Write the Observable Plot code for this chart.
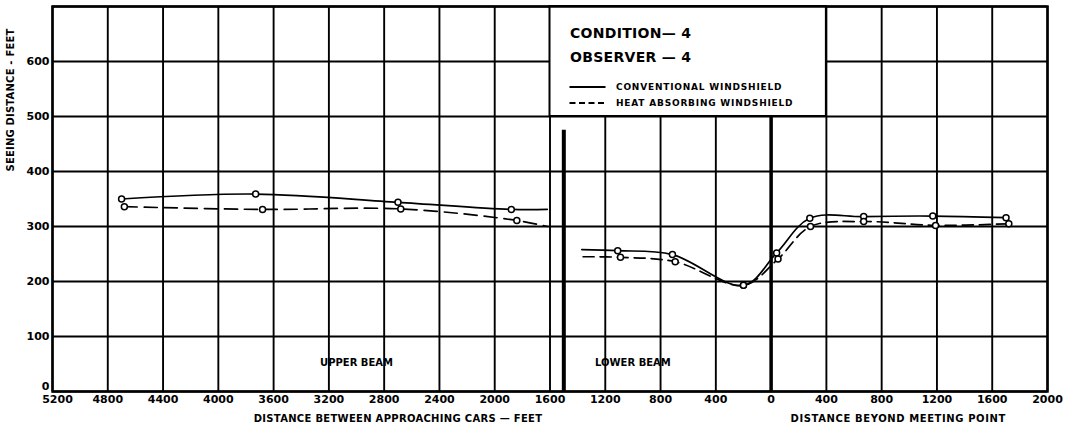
<!DOCTYPE html>
<html><head><meta charset="utf-8">
<script src="https://cdn.jsdelivr.net/npm/d3@7"></script>
<script src="https://cdn.jsdelivr.net/npm/@observablehq/plot@0.6"></script>
<style>
body{margin:0;background:#fff}
svg{display:block}
</style>
</head><body><div id="chart"></div>
<script>
// Signed position: negative = distance between approaching cars, positive = distance beyond meeting point
const xTicks = [-5200,-4800,-4400,-4000,-3600,-3200,-2800,-2400,-2000,-1600,-1200,-800,-400,0,400,800,1200,1600,2000];
const yTicks = [0,100,200,300,400,500,600];
const yTop = 700;

// Upper beam, conventional windshield (observed points)
const upperConvX = [-4700,-3730,-2700,-1880];
const upperConvY = [350,359,344,331];
const upperConvEndX = -1620, upperConvEndY = 331;

// Upper beam, heat absorbing windshield
const upperHeatX = [-4680,-3680,-2680,-1840];
const upperHeatY = [336,331,332,311];
const upperHeatEndX = -1620, upperHeatEndY = 300;

// Lower beam, conventional windshield
const lowerConvStartX = -1370, lowerConvStartY = 258;
const lowerConvX = [-1110,-714,-200,40,280,670,1170,1700];
const lowerConvY = [256,249,193,252,315,318,319,316];

// Lower beam, heat absorbing windshield
const lowerHeatStartX = -1360, lowerHeatStartY = 245;
const lowerHeatX = [-1090,-694,-200,50,285,670,1190,1720];
const lowerHeatY = [244,236,193,241,300,309,302,305];

const beamDivider = -1500, beamDividerTop = 475;
const legendBox = {x1: -1600, x2: 400, y1: 500, y2: 700};

const pts = (xs, ys) => xs.map((x, i) => ({x, y: ys[i]}));
const upperConvLine = [...pts(upperConvX, upperConvY), {x: upperConvEndX, y: upperConvEndY}];
const upperHeatLine = [...pts(upperHeatX, upperHeatY), {x: upperHeatEndX, y: upperHeatEndY}];
const lowerConvLine = [{x: lowerConvStartX, y: lowerConvStartY}, ...pts(lowerConvX, lowerConvY)];
const lowerHeatLine = [{x: lowerHeatStartX, y: lowerHeatStartY}, ...pts(lowerHeatX, lowerHeatY)];
const allPoints = [...pts(upperConvX, upperConvY), ...pts(upperHeatX, upperHeatY), ...pts(lowerConvX, lowerConvY), ...pts(lowerHeatX, lowerHeatY)];

const F = "DejaVu Sans";
const lineStyle = {x: "x", y: "y", curve: "catmull-rom", stroke: "black", strokeWidth: 1.7};

const plot = Plot.plot({
  width: 1075, height: 436,
  marginTop: 6, marginBottom: 45, marginLeft: 52, marginRight: 28,
  style: {fontFamily: F, fontWeight: "bold", fontSize: "11px", background: "white", color: "black"},
  x: {domain: [-5200, 2000], ticks: xTicks, tickFormat: d => String(Math.abs(d)), tickSize: 0, tickPadding: 4, label: null},
  y: {domain: [0, yTop], ticks: yTicks, tickSize: 0, tickPadding: 3, label: null},
  marks: [
    Plot.ruleX(xTicks, {stroke: "black", strokeWidth: 1.9}),
    Plot.ruleY([...yTicks, yTop], {stroke: "black", strokeWidth: 1.9}),
    Plot.ruleX([0], {stroke: "black", strokeWidth: 3.5}),
    Plot.ruleX([beamDivider], {y1: 0, y2: beamDividerTop, stroke: "black", strokeWidth: 4}),
    Plot.rect([legendBox], {x1: "x1", x2: "x2", y1: "y1", y2: "y2", fill: "white", stroke: "black", strokeWidth: 2}),
    Plot.frame({stroke: "black", strokeWidth: 2.5}),
    Plot.line(upperConvLine, lineStyle),
    Plot.line(upperHeatLine, {...lineStyle, strokeDasharray: "13,7"}),
    Plot.line(lowerConvLine, lineStyle),
    Plot.line(lowerHeatLine, {...lineStyle, strokeDasharray: "11,6"}),
    Plot.dot(allPoints, {x: "x", y: "y", r: 3, stroke: "black", fill: "white", strokeWidth: 1.5}),
    Plot.text(["UPPER BEAM"], {x: -3000, y: 53, fontSize: 10, fontWeight: "bold", fill: "black"}),
    Plot.text(["LOWER BEAM"], {x: -1000, y: 53, fontSize: 10, fontWeight: "bold", fill: "black"}),
    Plot.text(["SEEING DISTANCE - FEET"], {y: 400, frameAnchor: "left", dx: -42, rotate: -90, fontSize: 10, fontWeight: "bold", fill: "black"}),
    Plot.text(["DISTANCE BETWEEN APPROACHING CARS — FEET"], {x: -2700, frameAnchor: "bottom", dy: 30, fontSize: 10, fontWeight: "bold", fill: "black"}),
    Plot.text(["DISTANCE BEYOND MEETING POINT"], {x: 920, frameAnchor: "bottom", dy: 30, fontSize: 10, fontWeight: "bold", fill: "black"}),
    Plot.text(["CONDITION— 4"], {x: legendBox.x1, y: legendBox.y2, dx: 20, dy: 27, textAnchor: "start", fontSize: 14, fontWeight: "bold", fill: "black"}),
    Plot.text(["OBSERVER — 4"], {x: legendBox.x1, y: legendBox.y2, dx: 20, dy: 51, textAnchor: "start", fontSize: 14, fontWeight: "bold", fill: "black"}),
    Plot.text(["CONVENTIONAL WINDSHIELD"], {x: legendBox.x1, y: legendBox.y2, dx: 66, dy: 81, textAnchor: "start", fontSize: 9, fontWeight: "bold", fill: "black"}),
    Plot.text(["HEAT ABSORBING WINDSHIELD"], {x: legendBox.x1, y: legendBox.y2, dx: 66, dy: 97, textAnchor: "start", fontSize: 9, fontWeight: "bold", fill: "black"})
  ]
});

// letter spacing tweaks
const spacing = {
  "CONVENTIONAL WINDSHIELD": "0.8px",
  "HEAT ABSORBING WINDSHIELD": "0.8px",
  "CONDITION— 4": "0.3px",
  "OBSERVER — 4": "0.3px",
  "DISTANCE BETWEEN APPROACHING CARS — FEET": "0.3px",
  "DISTANCE BEYOND MEETING POINT": "0.6px",
  "SEEING DISTANCE - FEET": "0.2px"
};
plot.querySelectorAll("text").forEach(t => {
  const s = spacing[t.textContent];
  if (s) t.style.letterSpacing = s;
});

// legend samples drawn through the scales
const sx = plot.scale("x"), sy = plot.scale("y");
const bx = sx.apply(legendBox.x1), by = sy.apply(legendBox.y2);
const g = d3.select(plot).append("g").attr("stroke", "black").attr("stroke-width", 1.8);
g.append("line").attr("x1", bx + 20).attr("x2", bx + 56).attr("y1", by + 81).attr("y2", by + 81);
g.append("line").attr("x1", bx + 20).attr("x2", bx + 58).attr("y1", by + 97).attr("y2", by + 97).attr("stroke-dasharray", "6,3.5");

document.getElementById("chart").appendChild(plot);

// nudge the corner labels apart ("0" on y axis up, "5200" on x axis right), as in the reference
const x0 = sx.apply(-5200);
plot.querySelectorAll("text").forEach(t => {
  const r = t.getBoundingClientRect();
  const tr = t.getAttribute("transform") || "";
  if (t.textContent === "0" && r.right <= x0 + 1) t.setAttribute("transform", tr + " translate(0,-5)");
  if (t.textContent === "5200") t.setAttribute("transform", tr + " translate(5,0)");
});
</script>
</body></html>
